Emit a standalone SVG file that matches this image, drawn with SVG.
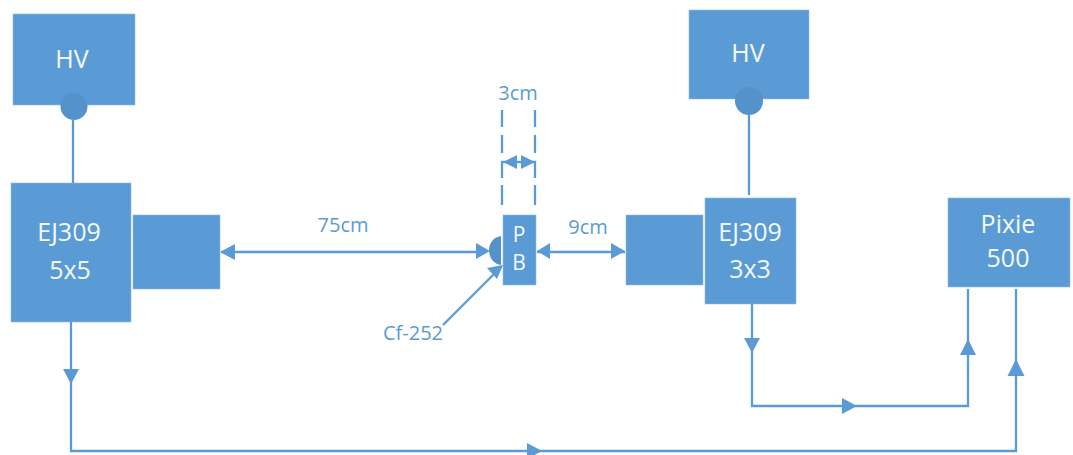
<svg xmlns="http://www.w3.org/2000/svg" width="1073" height="455" viewBox="0 0 1073 455">
<style>
.b{fill:#5b9bd5;stroke:#8fbce6;stroke-width:.6}
.w{fill:#f4f8fc;font:25px "Open Sans","Liberation Sans",sans-serif;text-anchor:middle}
.p{font-size:21px}
.l{fill:#5b9bd5;font:20px "Open Sans","Liberation Sans",sans-serif;text-anchor:middle}
.c{fill:none;stroke:#5b9bd5;stroke-width:2.300}
.a{fill:#5b9bd5}
.k{fill:#5592cb}
</style>
<rect width="1073" height="455" fill="#fff"/>
<g id="hv-left"><rect class="b" x="13" y="14" width="122" height="91"/><text class="w" x="72" y="68">HV</text></g>
<g id="hv-right"><rect class="b" x="689" y="10" width="120" height="89"/><text class="w" x="748" y="62">HV</text></g>
<g id="ej309-5x5"><rect class="b" x="11" y="183" width="120" height="139"/><text class="w" x="69" y="241">EJ309</text><text class="w" x="70" y="279">5x5</text></g>
<g id="pmt-left"><rect class="b" x="133" y="215" width="87" height="74"/></g>
<g id="pb"><rect class="b" x="503" y="215" width="33" height="70"/><text class="w p" x="519" y="242">P</text><text class="w p" x="519" y="270">B</text></g>
<g id="pmt-right"><rect class="b" x="626" y="215" width="77" height="70"/></g>
<g id="ej309-3x3"><rect class="b" x="705" y="198" width="91" height="106"/><text class="w" x="750" y="241">EJ309</text><text class="w" x="750" y="278">3x3</text></g>
<g id="pixie"><rect class="b" x="948" y="198" width="122" height="89"/><text class="w" x="1008" y="233">Pixie</text><text class="w" x="1008" y="267">500</text></g>
<g id="source"><path class="k" d="M501 236C493 237 489 244 489 250C489 257 493 264 501 265Z"/></g>
<g id="connectors">
<path class="c" d="M73 120V183"/>
<path class="c" d="M73 183V240" stroke-opacity=".45"/>
<path class="c" d="M749 113V195"/>
<circle class="k" cx="74" cy="106.500" r="13.500"/>
<circle class="k" cx="749" cy="101" r="14"/>
<path class="c" d="M221 252H478M537 252H625"/>
<path class="a" d="M220 252l15-8v16ZM490 251l-14-8v16ZM537 251l13-8v16ZM625 251l-14-8v16Z"/>
<path class="c" d="M443 325L497 271"/>
<path class="a" d="M503 265L497 279L487 268Z"/>
<path class="c" d="M502 110V127M502 135V153M502 178V162H535V178M502 185V205M535 110V127M535 135V153M535 185V205"/>
<path class="a" d="M503 162l14-7v14ZM535 162l-14-7v14Z"/>
<path class="c" d="M71 322V451H1016V289"/>
<path class="a" d="M71 384l-8-15h16ZM542 451l-15-8v16ZM1016 359l-8.500 17h17Z"/>
<path class="c" d="M752 304V406H968V289"/>
<path class="a" d="M752 353l-8-15h16ZM857 406l-15-8v16ZM968 339l-8 16h16Z"/>
</g>
<text class="l" x="343" y="232">75cm</text>
<text class="l" x="518" y="100">3cm</text>
<text class="l" x="588" y="234">9cm</text>
<text class="l" x="413" y="340">Cf-252</text>
</svg>
